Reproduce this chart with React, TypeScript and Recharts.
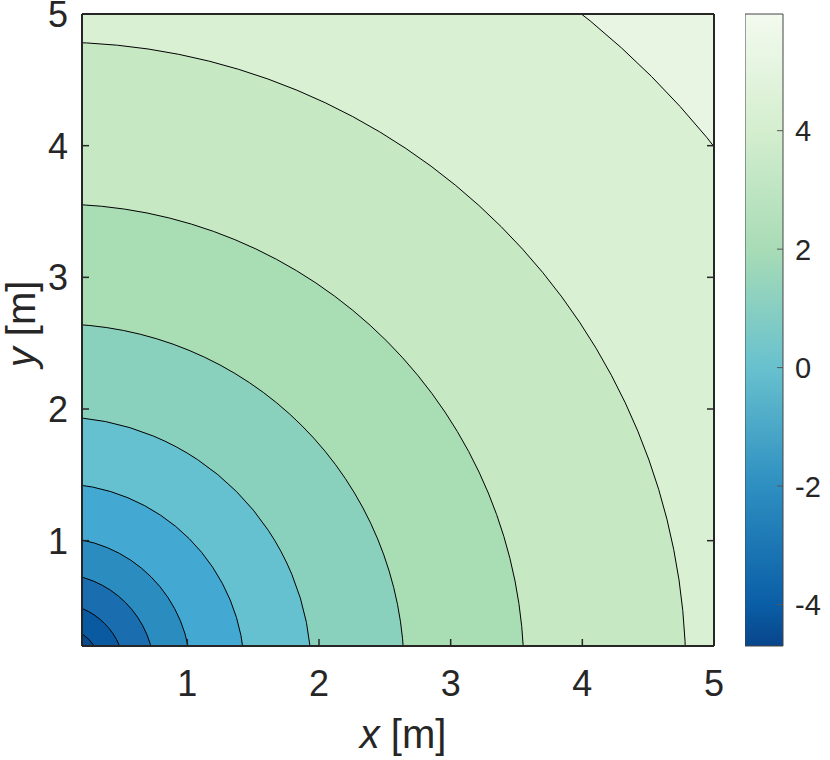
import { ComposedChart, XAxis, YAxis, ReferenceArea, Label } from 'recharts';

// contour radii (m), outermost first
const contourRadii = [6.4, 4.786, 3.557, 2.647, 1.942, 1.435, 1.025, 0.75, 0.525, 0.355];
// fill of each band: outside the first contour, then inside each contour
const bandColors = [
  '#e7f5e2',
  '#d9f0d3',
  '#c6e9c4',
  '#a9deb5',
  '#89d1bd',
  '#65c1cf',
  '#43a9d3',
  '#2b8cc0',
  '#1a6eb0',
  '#0a5aa2',
  '#084a8e',
];

const axisDomain = [0.2, 5];
const xTicks = [1, 2, 3, 4, 5];
const yTicks = [1, 2, 3, 4, 5];

const cbRange = [-4.7, 5.97];
const cbTicks = [-4, -2, 0, 2, 4];
const cbStopValues = [5.97, 4, 2, 0, -2, -4, -4.7];
const cbStopColors = ['#f3faef', '#d4eece', '#a8dcb6', '#68c1ce', '#2e8fc1', '#0a5ea6', '#08458b'];

const FONT = '"Liberation Sans", Arial, Helvetica, sans-serif';
const INK = '#262626';

const BottomTick = (props: any) => {
  const { x, y, payload } = props;
  return (
    <g>
      <line x1={x} y1={y} x2={x} y2={y - 7} stroke={INK} strokeWidth={1.5} />
      <text x={x} y={y + 50} textAnchor="middle" fontSize={36} fill={INK} fontFamily={FONT}>
        {payload.value}
      </text>
    </g>
  );
};

const LeftTick = (props: any) => {
  const { x, y, payload } = props;
  return (
    <g>
      <line x1={x} y1={y} x2={x + 7} y2={y} stroke={INK} strokeWidth={1.5} />
      <text x={x - 14} y={y + 13} textAnchor="end" fontSize={36} fill={INK} fontFamily={FONT}>
        {payload.value}
      </text>
    </g>
  );
};

const TopTick = (props: any) => {
  const { x, y } = props;
  return <line x1={x} y1={y} x2={x} y2={y + 7} stroke={INK} strokeWidth={1.5} />;
};

const RightTick = (props: any) => {
  const { x, y } = props;
  return <line x1={x} y1={y} x2={x - 7} y2={y} stroke={INK} strokeWidth={1.5} />;
};

const CbTick = (props: any) => {
  const { x, y, payload } = props;
  return (
    <g>
      <line x1={x} y1={y} x2={x - 6} y2={y} stroke="#555" strokeWidth={1} />
      <text x={x + 12} y={y + 10.5} textAnchor="start" fontSize={29} fill={INK} fontFamily={FONT}>
        {payload.value}
      </text>
    </g>
  );
};

const circleShape = (fill: string) => (props: any) => {
  const { x, y, width, height, clipPath } = props;
  return (
    <ellipse
      clipPath={clipPath}
      cx={x + width / 2}
      cy={y + height / 2}
      rx={Math.abs(width) / 2}
      ry={Math.abs(height) / 2}
      fill={fill}
      stroke="#000"
      strokeWidth={1}
    />
  );
};

function ContourPlot() {
  return (
    <ComposedChart width={830} height={760} margin={{ top: 13, right: 115, bottom: 54, left: 22 }}>
      <ReferenceArea
        x1={axisDomain[0]}
        x2={axisDomain[1]}
        y1={axisDomain[0]}
        y2={axisDomain[1]}
        fill={bandColors[0]}
        fillOpacity={1}
        stroke="none"
        ifOverflow="hidden"
      />
      {contourRadii.map((r, i) => (
        <ReferenceArea
          key={`band-${i}`}
          x1={-r}
          x2={r}
          y1={-r}
          y2={r}
          ifOverflow="hidden"
          shape={circleShape(bandColors[i + 1])}
        />
      ))}
      <XAxis
        type="number"
        dataKey="x"
        domain={axisDomain}
        ticks={xTicks}
        allowDataOverflow
        height={60}
        tickSize={0}
        tickMargin={0}
        tick={<BottomTick />}
        axisLine={{ stroke: INK, strokeWidth: 2 }}
        tickLine={false}
      >
        <Label
          content={(p: any) => {
            const vb = p.viewBox;
            return (
              <text
                x={vb.x + vb.width / 2 + 5}
                y={vb.y + 102}
                textAnchor="middle"
                fontSize={40}
                fill={INK}
                fontFamily={FONT}
              >
                <tspan fontStyle="italic">x</tspan> [m]
              </text>
            );
          }}
        />
      </XAxis>
      <XAxis
        xAxisId="top"
        orientation="top"
        type="number"
        domain={axisDomain}
        ticks={xTicks}
        allowDataOverflow
        height={1}
        tickSize={0}
        tickMargin={0}
        tick={<TopTick />}
        axisLine={{ stroke: INK, strokeWidth: 2 }}
        tickLine={false}
      />
      <YAxis
        type="number"
        dataKey="y"
        domain={axisDomain}
        ticks={yTicks}
        allowDataOverflow
        width={60}
        tickSize={0}
        tickMargin={0}
        tick={<LeftTick />}
        axisLine={{ stroke: INK, strokeWidth: 2 }}
        tickLine={false}
      >
        <Label
          content={(p: any) => {
            const vb = p.viewBox;
            const cx = vb.x + vb.width - 47;
            const cy = vb.y + vb.height / 2 - 6;
            return (
              <text
                x={cx}
                y={cy}
                transform={`rotate(-90 ${cx} ${cy})`}
                textAnchor="middle"
                fontSize={40}
                fill={INK}
                fontFamily={FONT}
              >
                <tspan fontStyle="italic">y</tspan> [m]
              </text>
            );
          }}
        />
      </YAxis>
      <YAxis
        yAxisId="right"
        orientation="right"
        type="number"
        domain={axisDomain}
        ticks={yTicks}
        allowDataOverflow
        width={1}
        tickSize={0}
        tickMargin={0}
        tick={<RightTick />}
        axisLine={{ stroke: INK, strokeWidth: 2 }}
        tickLine={false}
      />
    </ComposedChart>
  );
}

function ColorBar() {
  const span = cbRange[1] - cbRange[0];
  return (
    <ComposedChart width={85} height={760} margin={{ top: 14, right: 0, bottom: 114, left: 0 }}>
      <defs>
        <linearGradient id="cbGrad" x1="0" y1="0" x2="0" y2="1">
          {cbStopValues.map((v, i) => (
            <stop key={v} offset={(cbRange[1] - v) / span} stopColor={cbStopColors[i]} />
          ))}
        </linearGradient>
      </defs>
      <XAxis type="number" dataKey="x" domain={[0, 1]} allowDataOverflow hide />
      <ReferenceArea
        x1={0}
        x2={1}
        y1={cbRange[0]}
        y2={cbRange[1]}
        fill="url(#cbGrad)"
        fillOpacity={1}
        stroke="#444"
        strokeWidth={1}
        ifOverflow="visible"
      />
      <YAxis
        orientation="right"
        type="number"
        domain={cbRange}
        ticks={cbTicks}
        allowDataOverflow
        width={47}
        tickSize={0}
        tickMargin={0}
        tick={<CbTick />}
        axisLine={false}
        tickLine={false}
      />
    </ComposedChart>
  );
}

export default function App() {
  return (
    <div style={{ position: 'absolute', left: 0, top: 0, width: 830, height: 760, background: '#fff' }}>
      <div style={{ position: 'absolute', left: 0, top: 0 }}>
        <ContourPlot />
      </div>
      <div style={{ position: 'absolute', left: 745, top: 0 }}>
        <ColorBar />
      </div>
    </div>
  );
}
